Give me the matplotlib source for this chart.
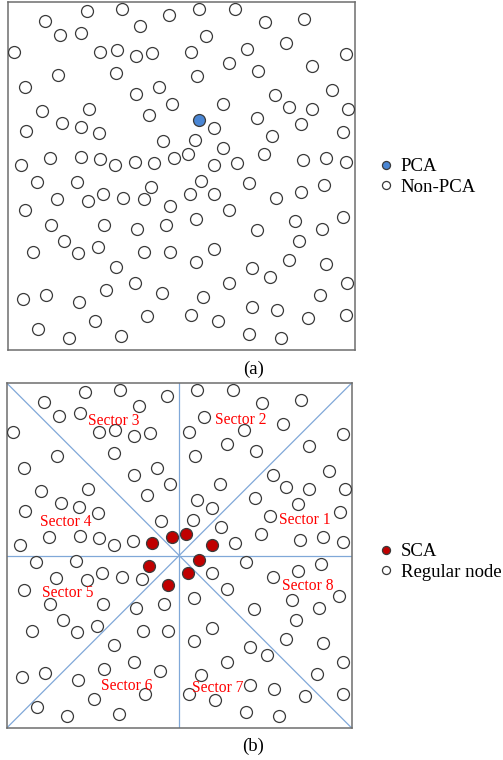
import matplotlib
matplotlib.use("Agg")
import matplotlib.pyplot as plt
from matplotlib.lines import Line2D

# ---------------- data ----------------
# node positions in field units (x to the right, y downward from the top edge)
node_x = [198.7,
          86.7, 121.7, 169, 44.7, 140.3, 60.3, 81, 13.7, 100.3, 116.7,
          135.7, 151.7, 57.7, 116, 25.3, 135.7, 159, 41.7, 89, 171.7,
          148.7, 26.3, 62, 80.7, 99.3, 163, 50.3, 81.3, 100.3, 115.3,
          135, 153.7, 173.7, 21.3, 199.3, 235, 264.7, 303.7, 206.3, 191,
          247, 286, 346.3, 229.3, 258.3, 311.7, 197, 331.7, 275.3, 222.7,
          289, 312, 348, 214, 257.3, 301, 343, 194.7, 272.3, 223,
          188.3, 214, 237.3, 264, 303.3, 326.3, 346.3, 201, 249, 324.3,
          189.7, 214, 276, 300.7, 229.3, 195.7, 295.3, 342.7, 257, 322,
          299, 214, 196, 289, 326.3, 252.3, 269.7, 229.3, 346.7, 203.3,
          319.7, 252.3, 276.7, 191.3, 217.7, 308.3, 346, 249, 281.3, 36.7,
          77.3, 151.3, 57.3, 88, 103, 123.3, 143.7, 170.3, 25.3, 51.3,
          104.3, 137.3, 165.7, 64.3, 32.7, 78, 98.3, 144.3, 170, 116,
          135.3, 106, 161.7, 23.3, 46, 79.3, 146.7, 95, 38.3, 68.7,
          120.7]
node_y = [120,
          11.3, 9.3, 14.7, 20.7, 25.7, 35.3, 32.7, 51.7, 51.7, 49.7,
          55.7, 52.7, 75.3, 73, 87.3, 94.3, 87.3, 111, 108.7, 104,
          115.3, 131, 122.7, 127.3, 133, 141.3, 157.7, 156.7, 158.7, 165.3,
          161.7, 163, 157.7, 165.3, 9.3, 9.3, 22, 19, 36.3, 51.7,
          49, 43, 53.7, 63.3, 70.7, 65.7, 75.7, 90.3, 95.3, 104.3,
          107.3, 108.7, 109, 128.3, 118, 123.7, 131.7, 140, 136, 147.7,
          154, 165.3, 163, 154.3, 160.3, 157.7, 162.3, 181, 182.7, 185,
          193.7, 193.7, 198, 191.7, 210, 219.3, 221.3, 217.3, 229.7, 229.3,
          241.3, 249, 262.3, 260, 264, 268, 276.7, 283.3, 283.3, 296.7,
          295.3, 306.7, 310.3, 315.3, 321.3, 318, 315.3, 334, 338, 182.3,
          182, 186.7, 199, 201, 194, 197.7, 199.3, 206, 210.3, 225.3,
          225.3, 229, 225.3, 240.7, 251.7, 253, 246.7, 251.7, 251.7, 266.7,
          283.3, 290.3, 292.7, 298.7, 294.7, 301.7, 316, 321, 329.3, 338,
          336]
pca_node = 0
sca_nodes = [32, 33, 61, 62, 68, 71, 102, 108]

sector_names = ["Sector 1", "Sector 2", "Sector 3", "Sector 4",
                "Sector 5", "Sector 6", "Sector 7", "Sector 8"]
sector_label_x = [308, 243.5, 115.6, 67.2, 68.5, 128.4, 219.6, 310.3]
sector_label_y = [139.9, 39.3, 40.6, 142.2, 214.1, 307.3, 310, 206.8]

legend_a = ["PCA", "Non-PCA"]
legend_b = ["SCA", "Regular node"]
captions = ["(a)", "(b)"]

# ---------------- style ----------------
FONT = ["Liberation Serif", "DejaVu Serif"]
XLIM = (7.5, 355)
YLIM = (350, 2)
EDGE = "#3a3a3a"
BLUE = "#4a86d4"
RED = "#c00000"
LINEC = "#80a8d8"
MS = 8.6
MEW = 0.9

fig = plt.figure(figsize=(5.03, 7.60), dpi=100)
ax_a = fig.add_axes([7.5 / 503, 1 - 350 / 760, 347.5 / 503, 348 / 760])
ax_b = fig.add_axes([6.7 / 503, 1 - 728 / 760, 345 / 503, 345 / 760])

for ax in (ax_a, ax_b):
    ax.set_xlim(*XLIM)
    ax.set_ylim(*YLIM)
    ax.set_xticks([])
    ax.set_yticks([])
    for s in ax.spines.values():
        s.set_color("#6e6e6e")
        s.set_linewidth(1.1)

n = len(node_x)
others_a = [i for i in range(n) if i != pca_node]
others_b = [i for i in range(n) if i not in sca_nodes]

# ---- panel (a)
ax_a.plot([node_x[i] for i in others_a], [node_y[i] for i in others_a], "o",
          ms=MS, mfc="white", mec=EDGE, mew=MEW, zorder=3)
ax_a.plot([node_x[pca_node]], [node_y[pca_node]], "o",
          ms=MS, mfc=BLUE, mec=EDGE, mew=MEW, zorder=4)

# ---- panel (b): sector boundaries
x0, x1 = XLIM
y1, y0 = YLIM
cx, cy = (x0 + x1) / 2, (y0 + y1) / 2
ax_b.plot([cx, cx], [y0, y1], color=LINEC, lw=0.9, zorder=1)
ax_b.plot([x0, x1], [cy, cy], color=LINEC, lw=0.9, zorder=1)
ax_b.plot([x0, x1], [y0, y1], color=LINEC, lw=0.9, zorder=1)
ax_b.plot([x0, x1], [y1, y0], color=LINEC, lw=0.9, zorder=1)

ax_b.plot([node_x[i] for i in others_b], [node_y[i] for i in others_b], "o",
          ms=MS, mfc="white", mec=EDGE, mew=MEW, zorder=3)
ax_b.plot([node_x[i] for i in sca_nodes], [node_y[i] for i in sca_nodes], "o",
          ms=MS, mfc=RED, mec=EDGE, mew=MEW, zorder=4)

for name, sx, sy in zip(sector_names, sector_label_x, sector_label_y):
    ax_b.text(sx, sy, name, color="#ff0000", fontsize=11.2, family=FONT,
              ha="center", va="center", zorder=5)

# ---- legends
def make_handles(fill):
    return [Line2D([], [], ls="", marker="o", ms=5.8, mfc=fill, mec=EDGE, mew=0.9),
            Line2D([], [], ls="", marker="o", ms=5.8, mfc="white", mec=EDGE, mew=0.9)]

for labels, fill, yc in ((legend_a, BLUE, 1 - 177 / 760), (legend_b, RED, 1 - 562 / 760)):
    fig.legend(make_handles(fill), labels, loc="center left",
               bbox_to_anchor=(378.5 / 503, yc), frameon=False, borderpad=0,
               borderaxespad=0, handlelength=0.8, handletextpad=0.38,
               labelspacing=0.2, prop={"family": FONT, "size": 13.5})

# ---- captions
fig.text(253.3 / 503, 1 - 369.3 / 760, captions[0], ha="center", va="center",
         fontsize=13.5, family=FONT)
fig.text(253.3 / 503, 1 - 746 / 760, captions[1], ha="center", va="center",
         fontsize=13.5, family=FONT)

fig.savefig("out.png", dpi=100)
